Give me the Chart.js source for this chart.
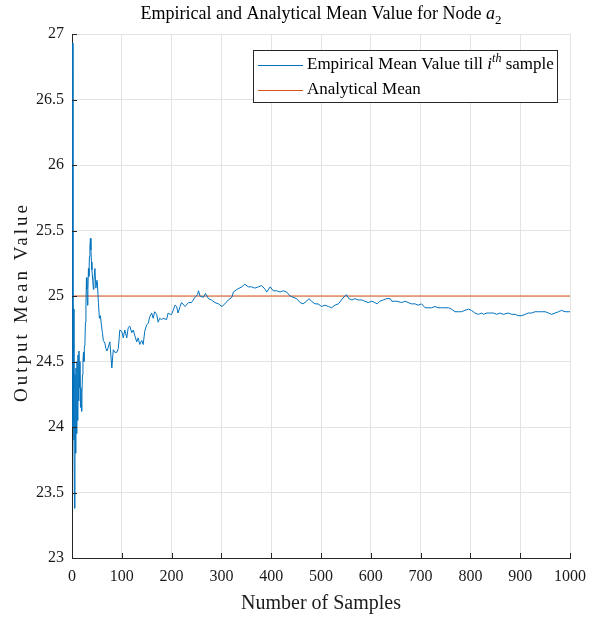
<!DOCTYPE html>
<html>
<head>
<meta charset="utf-8">
<script src="https://cdn.jsdelivr.net/npm/chart.js@4.4.1/dist/chart.umd.min.js"></script>
<style>
  html, body { margin: 0; padding: 0; background: #fff; }
  #chart { display: block; }
</style>
</head>
<body>
<canvas id="chart" width="605" height="620"></canvas>
<script>
"use strict";

// running mean (sample number -> mean so far)
var sampleIndex = [
    1, 2, 3, 4, 5, 6, 7, 8, 9, 10, 11, 12, 13, 14, 15, 16, 17, 18, 19, 20,
    21, 22, 23, 24, 25, 26, 27, 28, 29, 30, 31, 32, 33, 34, 35, 36, 37, 38, 39, 40,
    42, 43, 44, 46, 48, 50, 51, 53, 55, 57, 59, 61, 63, 66, 68, 70, 73, 76, 78, 80,
    82, 83, 86, 90, 93, 96, 100, 103, 106, 110, 113, 116, 120, 123, 126, 130, 133, 136, 140, 143,
    146, 150, 153, 156, 160, 163, 166, 170, 173, 176, 180, 183, 190, 193, 197, 200, 204, 207, 210, 213,
    217, 220, 227, 234, 240, 247, 252, 254, 257, 264, 268, 274, 280, 287, 294, 301, 307, 314, 321, 324,
    331, 341, 347, 354, 361, 367, 374, 381, 388, 391, 398, 404, 411, 418, 424, 431, 438, 444, 451, 458,
    464, 471, 476, 481, 488, 494, 501, 508, 515, 521, 528, 535, 541, 548, 551, 556, 562, 568, 575, 582,
    588, 595, 602, 608, 613, 618, 625, 632, 639, 642, 652, 662, 669, 675, 682, 689, 695, 702, 709, 715,
    722, 729, 735, 742, 749, 756, 762, 769, 776, 782, 789, 796, 802, 809, 816, 823, 826, 833, 839, 846,
    853, 859, 866, 876, 883, 890, 896, 903, 910, 916, 923, 930, 937, 943, 950, 957, 963, 970, 977, 983,
    990, 997, 1000
];
var empiricalMean = [
    26.93, 24.00, 24.90, 23.90, 23.38, 24.40, 23.80, 24.45, 23.95, 24.50, 24.05, 24.55, 24.20, 24.58, 24.30, 24.50, 24.15, 24.30, 24.12, 24.25,
    24.40, 24.50, 24.57, 24.50, 24.62, 24.65, 24.80, 24.95, 25.14, 25.05, 24.93, 25.05, 25.21, 25.15, 25.30, 25.38, 25.44, 25.35, 25.26, 25.20,
    25.10, 25.05, 25.12, 25.21, 25.06, 25.12, 25.10, 24.95, 24.83, 24.85, 24.78, 24.72, 24.66, 24.64, 24.60, 24.58, 24.61, 24.65, 24.55, 24.45,
    24.55, 24.59, 24.57, 24.57, 24.60, 24.74, 24.73, 24.68, 24.74, 24.68, 24.76, 24.77, 24.72, 24.74, 24.70, 24.65, 24.68, 24.63, 24.66, 24.63,
    24.73, 24.78, 24.79, 24.84, 24.87, 24.83, 24.88, 24.86, 24.80, 24.83, 24.82, 24.83, 24.82, 24.87, 24.86, 24.86, 24.90, 24.93, 24.92, 24.87,
    24.92, 24.95, 24.92, 24.95, 24.95, 24.99, 25.01, 25.04, 25.00, 24.99, 25.02, 24.98, 24.97, 24.95, 24.94, 24.92, 24.94, 24.97, 24.99, 25.03,
    25.05, 25.07, 25.09, 25.07, 25.07, 25.06, 25.07, 25.08, 25.05, 25.03, 25.07, 25.04, 25.04, 25.03, 25.04, 25.03, 25.00, 24.99, 24.98, 24.95,
    24.94, 24.96, 24.98, 24.96, 24.94, 24.94, 24.92, 24.93, 24.92, 24.91, 24.93, 24.94, 24.97, 25.00, 25.01, 24.98, 24.97, 24.98, 24.97, 24.97,
    24.96, 24.95, 24.96, 24.95, 24.94, 24.96, 24.97, 24.98, 24.98, 24.96, 24.96, 24.95, 24.96, 24.95, 24.94, 24.94, 24.93, 24.94, 24.91, 24.91,
    24.91, 24.92, 24.91, 24.91, 24.91, 24.91, 24.90, 24.88, 24.88, 24.88, 24.89, 24.90, 24.89, 24.87, 24.86, 24.87, 24.86, 24.87, 24.87, 24.87,
    24.86, 24.87, 24.86, 24.87, 24.86, 24.86, 24.85, 24.85, 24.86, 24.87, 24.87, 24.88, 24.88, 24.88, 24.88, 24.87, 24.86, 24.87, 24.88, 24.89,
    24.88, 24.88, 24.88
];
var analyticalMean = 25;
var analyticalRange = [0, 1000];

var xTicks = [0, 100, 200, 300, 400, 500, 600, 700, 800, 900, 1000];
var yTicks = [23, 23.5, 24, 24.5, 25, 25.5, 26, 26.5, 27];

var titleParts = [{ t: "Empirical and Analytical Mean Value for Node " }, { t: "a", it: true }, { t: "2", sub: true }];
var legendLabels = [
    [{ t: "Empirical Mean Value till " }, { t: "i", it: true }, { t: "th", sup: true, it: true }, { t: " sample" }],
    [{ t: "Analytical Mean" }]
];
var yTitle = "Output Mean Value";
var xTitle = "Number of Samples";

var serif = "'Liberation Serif', 'Times New Roman', serif";
var blue = "#0072BD";
var orange = "#D95319";
var axisColor = "#262626";

var toPoints = function(xs, ys) {
    return xs.map(function(x, i) { return { x: x, y: ys[i] }; });
};

// draws a run of text with italic / sub / superscript pieces, returns width
var drawRich = function(ctx, parts, x, y, size, measureOnly) {
    var w = 0;
    parts.forEach(function(p) {
        var s = (p.sub || p.sup) ? Math.round(size * 0.7) : size;
        ctx.font = (p.it ? "italic " : "") + s + "px " + serif;
        var dy = p.sub ? size * 0.25 : (p.sup ? -size * 0.38 : 0);
        if (!measureOnly) ctx.fillText(p.t, x + w, y + dy);
        w += ctx.measureText(p.t).width;
    });
    return w;
};

var decor = {
    id: "decor",
    afterDraw: function(chart) {
        var ctx = chart.ctx;
        var area = chart.chartArea;
        var xs = chart.scales.x, ys = chart.scales.y;
        ctx.save();

        // inward tick marks
        ctx.strokeStyle = axisColor;
        ctx.lineWidth = 1;
        ctx.beginPath();
        xTicks.forEach(function(v) {
            var px = Math.round(xs.getPixelForValue(v)) + 0.5;
            ctx.moveTo(px, area.bottom);
            ctx.lineTo(px, area.bottom - 5);
        });
        yTicks.forEach(function(v) {
            var py = Math.round(ys.getPixelForValue(v)) + 0.5;
            ctx.moveTo(area.left, py);
            ctx.lineTo(area.left + 5, py);
        });
        ctx.stroke();

        // title
        ctx.fillStyle = "#000";
        ctx.textBaseline = "alphabetic";
        ctx.textAlign = "left";
        var tw = drawRich(ctx, titleParts, 0, 0, 18, true);
        drawRich(ctx, titleParts, (area.left + area.right) / 2 - tw / 2, 19, 18);

        // y axis title, spaced out like the original
        ctx.save();
        ctx.translate(22, 302);
        ctx.rotate(-Math.PI / 2);
        ctx.font = "19px " + serif;
        ctx.letterSpacing = "3px";
        ctx.textAlign = "center";
        ctx.textBaseline = "middle";
        ctx.fillStyle = "#1a1a1a";
        ctx.fillText(yTitle, 0, 0);
        ctx.restore();

        // legend box
        var bx = 253.5, by = 50.5, bw = 304, bh = 52;
        ctx.fillStyle = "#fff";
        ctx.fillRect(bx, by, bw, bh);
        ctx.strokeStyle = axisColor;
        ctx.lineWidth = 1;
        ctx.strokeRect(bx, by, bw, bh);
        var colors = [blue, orange];
        legendLabels.forEach(function(parts, i) {
            var ly = 65 + i * 25;
            ctx.strokeStyle = colors[i];
            ctx.beginPath();
            ctx.moveTo(258, ly + 0.5);
            ctx.lineTo(303, ly + 0.5);
            ctx.stroke();
            ctx.fillStyle = "#000";
            ctx.textBaseline = "middle";
            drawRich(ctx, parts, 307, ly, 17);
        });

        ctx.restore();
    }
};

var createChart = function() {
    var ctx = document.getElementById("chart").getContext("2d");
    return new Chart(ctx, {
        type: "line",
        data: {
            datasets: [{
                label: "Empirical Mean Value till i-th sample",
                data: toPoints(sampleIndex, empiricalMean),
                borderColor: blue,
                borderWidth: 1,
                pointRadius: 0,
                tension: 0
            }, {
                label: "Analytical Mean",
                data: toPoints(analyticalRange, [analyticalMean, analyticalMean]),
                borderColor: orange,
                borderWidth: 1.2,
                pointRadius: 0
            }]
        },
        options: {
            responsive: false,
            animation: false,
            layout: { padding: { top: 34, right: 35, left: 0, bottom: 0 } },
            plugins: {
                legend: { display: false },
                tooltip: { enabled: false }
            },
            scales: {
                x: {
                    type: "linear",
                    min: 0,
                    max: 1000,
                    afterBuildTicks: function(s) { s.ticks = xTicks.map(function(v) { return { value: v }; }); },
                    afterFit: function(s) { s.height = 62; },
                    grid: { color: "#e3e3e3", drawTicks: false },
                    border: { color: axisColor, width: 1 },
                    ticks: {
                        color: "#1a1a1a", padding: 9, maxRotation: 0,
                        font: { family: serif, size: 16 },
                        callback: function(v) { return String(v); }
                    },
                    title: {
                        display: true,
                        text: xTitle,
                        color: "#1a1a1a",
                        padding: { top: 0, bottom: 4 },
                        font: { family: serif, size: 20 }
                    }
                },
                y: {
                    type: "linear",
                    min: 23,
                    max: 27,
                    afterBuildTicks: function(s) { s.ticks = yTicks.map(function(v) { return { value: v }; }); },
                    afterFit: function(s) { s.width = 72; },
                    grid: { color: "#e3e3e3", drawTicks: false },
                    border: { color: axisColor, width: 1 },
                    ticks: {
                        color: "#1a1a1a", padding: 8,
                        font: { family: serif, size: 16 },
                        callback: function(v) { return String(v); }
                    }
                }
            }
        },
        plugins: [decor]
    });
};

createChart();
</script>
</body>
</html>
